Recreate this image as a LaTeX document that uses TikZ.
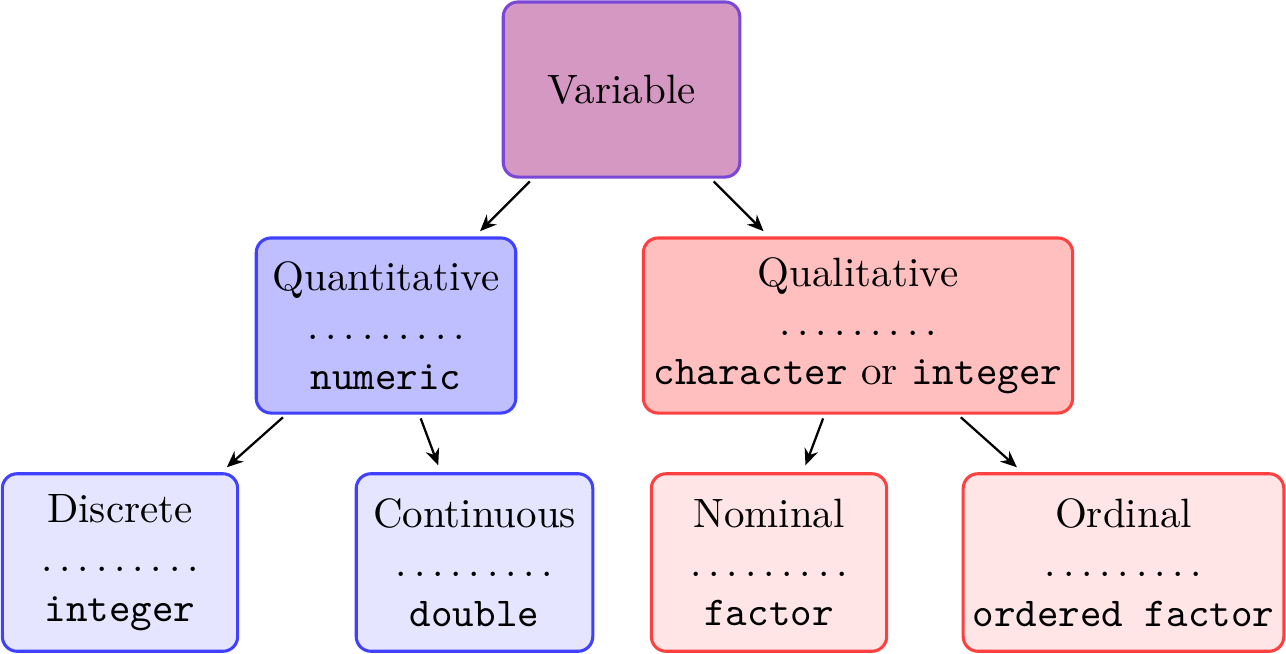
\documentclass[tikz,border=0pt]{standalone}
\usetikzlibrary{arrows.meta}
\definecolor{varfill}{RGB}{213,152,195}
\definecolor{vardraw}{RGB}{122,72,214}
\newcommand{\dotrow}{.\kern1.67pt.\kern1.67pt.\kern1.67pt.\kern1.67pt.\kern1.67pt.\kern1.67pt.\kern1.67pt.\kern1.67pt.}
\tikzset{
  box/.style={draw, line width=0.75pt, rounded corners=3.6pt, align=center, inner sep=0pt, minimum height=42.7pt},
  varbox/.style={box, fill=varfill, draw=vardraw},
  qnbox/.style={box, fill=blue!25, draw=blue!75},
  qlbox/.style={box, fill=red!25, draw=red!75},
  qnleaf/.style={box, fill=blue!10, draw=blue!75, minimum height=43.3pt},
  qlleaf/.style={box, fill=red!10, draw=red!75, minimum height=43.3pt},
  edge/.style={-{Stealth[length=4pt,width=3.4pt]}, line width=0.55pt, shorten <=1pt, shorten >=1.8pt}
}
\begin{document}
\begin{tikzpicture}[x=0.2439pt, y=-0.2439pt]
\useasboundingbox (0,0) rectangle (1286,653);
\node[varbox, minimum width=57.7pt] (var) at (621.5,89.5) {Variable};
\node[qnbox, minimum width=63.3pt] (quant) at (386,325.5) {Quantitative\\\dotrow\\\texttt{numeric}};
\node[qlbox, minimum width=104.7pt] (qual) at (858,325.5) {Qualitative\\\dotrow\\\texttt{character} or \texttt{integer}};
\node[qnleaf, minimum width=57.4pt] (disc) at (120,562.5) {Discrete\\\dotrow\\\texttt{integer}};
\node[qnleaf, minimum width=57.7pt] (cont) at (474.5,562.5) {Continuous\\\dotrow\\\texttt{double}};
\node[qlleaf, minimum width=57.4pt] (nom) at (769,562.5) {Nominal\\\dotrow\\\texttt{factor}};
\node[qlleaf, minimum width=78.2pt] (ord) at (1123.5,562.5) {Ordinal\\\dotrow\\\texttt{ordered factor}};
\draw[edge] (var) -- (quant);
\draw[edge] (var) -- (qual);
\draw[edge] (quant) -- (disc);
\draw[edge] (quant) -- (cont);
\draw[edge] (qual) -- (nom);
\draw[edge] (qual) -- (ord);
\end{tikzpicture}
\end{document}
